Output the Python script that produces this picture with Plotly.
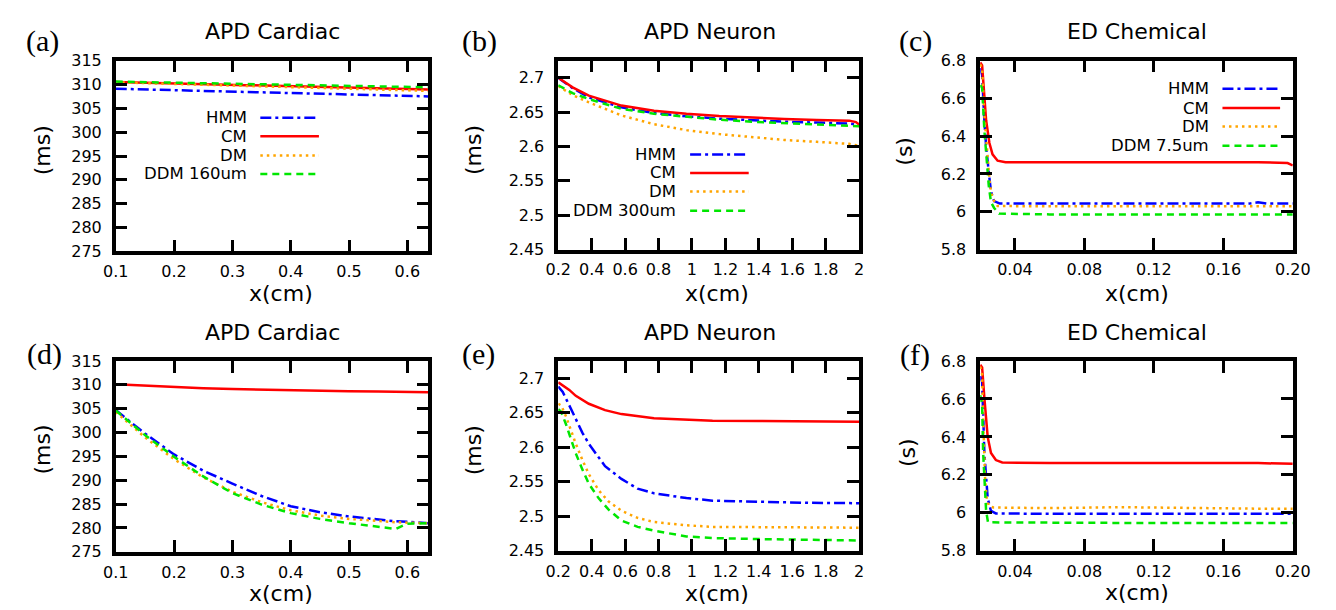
import plotly.graph_objects as go

W, H = 1336, 610

# ---------------- data ----------------
# (a) APD Cardiac
a_x = [0.1, 0.2, 0.3, 0.4, 0.5, 0.6, 0.636]
a_hmm = [309.1, 308.8, 308.5, 308.25, 308.0, 307.75, 307.5]
a_cm = [310.5, 310.2, 309.9, 309.6, 309.35, 309.05, 308.95]
a_dm = [310.45, 310.1, 309.8, 309.5, 309.2, 308.85, 308.65]
a_ddm = [310.6, 310.4, 310.2, 309.95, 309.75, 309.5, 309.4]

# (b) APD Neuron
b_x = [0.2, 0.286, 0.383, 0.578, 0.773, 0.967, 1.163, 1.357, 1.552, 1.747, 1.942, 1.981, 2.0]
b_hmm = [2.700, 2.685, 2.6714, 2.657, 2.6486, 2.6438, 2.6405, 2.638, 2.636, 2.6348, 2.6334, 2.632, 2.631]
b_cm = [2.700, 2.686, 2.674, 2.6595, 2.652, 2.6476, 2.6443, 2.642, 2.640, 2.6386, 2.6376, 2.6355, 2.632]
b_dm = [2.688, 2.6748, 2.6643, 2.6452, 2.6324, 2.6238, 2.618, 2.6133, 2.6095, 2.6067, 2.6038, 2.602, 2.600]
b_ddm = [2.689, 2.6776, 2.669, 2.6548, 2.6476, 2.643, 2.639, 2.636, 2.6343, 2.6324, 2.631, 2.630, 2.6295]

# (c) ED Chemical
c_hmm_x = [0.0200, 0.0211, 0.0224, 0.0234, 0.0249, 0.0262, 0.0280, 0.0313, 0.06, 0.10, 0.14, 0.175, 0.18, 0.185, 0.200]
c_hmm = [6.76, 6.723, 6.48, 6.347, 6.21, 6.108, 6.056, 6.043, 6.043, 6.043, 6.043, 6.043, 6.05, 6.043, 6.043]
c_cm_x = [0.0200, 0.0211, 0.0234, 0.0253, 0.0271, 0.0300, 0.0346, 0.06, 0.10, 0.14, 0.18, 0.197, 0.200]
c_cm = [6.79, 6.774, 6.484, 6.364, 6.304, 6.270, 6.262, 6.262, 6.262, 6.262, 6.262, 6.258, 6.245]
c_dm_x = [0.0200, 0.0211, 0.0224, 0.0243, 0.0256, 0.0271, 0.0300, 0.06, 0.10, 0.14, 0.18, 0.200]
c_dm = [6.78, 6.757, 6.51, 6.29, 6.14, 6.07, 6.03, 6.029, 6.029, 6.029, 6.029, 6.029]
c_ddm_x = [0.0200, 0.0211, 0.0224, 0.0237, 0.0249, 0.0262, 0.0280, 0.0308, 0.06, 0.10, 0.14, 0.18, 0.200]
c_ddm = [6.67, 6.655, 6.43, 6.26, 6.14, 6.05, 6.02, 5.99, 5.986, 5.986, 5.986, 5.986, 5.986]

# (d) APD Cardiac
d_x = [0.1, 0.15, 0.2, 0.25, 0.3, 0.35, 0.4, 0.45, 0.5, 0.55, 0.58, 0.6, 0.636]
d_hmm = [304.7, 299.8, 295.4, 292.0, 289.3, 286.7, 284.55, 283.3, 282.4, 281.7, 281.4, 281.3, 281.0]
d_cm = [310.1, 309.8, 309.5, 309.3, 309.1, 308.95, 308.8, 308.72, 308.65, 308.58, 308.53, 308.5, 308.45]
d_dm = [304.3, 299.0, 294.4, 290.6, 287.6, 285.4, 283.7, 282.6, 281.9, 281.4, 281.2, 281.1, 281.0]
d_ddm = [304.6, 299.5, 294.9, 290.8, 287.3, 284.9, 283.1, 281.9, 281.0, 280.3, 279.8, 280.9, 281.0]

# (e) APD Neuron
e_cm_x = [0.2, 0.227, 0.266, 0.305, 0.383, 0.48, 0.578, 0.773, 0.967, 1.123, 1.4, 1.7, 2.0]
e_cm = [2.694, 2.690, 2.683, 2.6745, 2.663, 2.6537, 2.648, 2.642, 2.6398, 2.6384, 2.638, 2.6377, 2.637]
e_hmm_x = [0.2, 0.227, 0.266, 0.305, 0.344, 0.383, 0.48, 0.578, 0.675, 0.773, 0.967, 1.123, 1.4, 1.7, 2.0]
e_hmm = [2.688, 2.680, 2.6606, 2.6398, 2.6213, 2.605, 2.5727, 2.5542, 2.540, 2.5333, 2.5264, 2.5227, 2.521, 2.5195, 2.519]
e_x = [0.2, 0.2175, 0.2468, 0.276, 0.305, 0.344, 0.383, 0.441, 0.5, 0.578, 0.675, 0.773, 0.967, 1.123, 1.4, 2.0]
e_dm = [2.663, 2.6606, 2.6444, 2.6236, 2.605, 2.582, 2.561, 2.538, 2.5218, 2.508, 2.4977, 2.4917, 2.487, 2.4847, 2.484, 2.4835]
e_ddm = [2.655, 2.6514, 2.6329, 2.612, 2.5912, 2.568, 2.5472, 2.5264, 2.510, 2.494, 2.4847, 2.4792, 2.4708, 2.4685, 2.467, 2.465]

# (f) ED Chemical
f_hmm_x = [0.0200, 0.0211, 0.0224, 0.0234, 0.0243, 0.0262, 0.0290, 0.06, 0.10, 0.14, 0.18, 0.200]
f_hmm = [6.72, 6.69, 6.315, 6.18, 6.077, 6.01, 5.997, 5.995, 5.995, 5.995, 5.995, 5.995]
f_cm_x = [0.0200, 0.0211, 0.0224, 0.0234, 0.0243, 0.0262, 0.0290, 0.0327, 0.06, 0.10, 0.14, 0.18, 0.200]
f_cm = [6.78, 6.766, 6.604, 6.485, 6.40, 6.315, 6.278, 6.265, 6.262, 6.262, 6.262, 6.262, 6.258]
f_dm_x = [0.0200, 0.0211, 0.0217, 0.0228, 0.0237, 0.0250, 0.0277, 0.06, 0.10, 0.14, 0.18, 0.200]
f_dm = [6.77, 6.73, 6.50, 6.18, 6.08, 6.036, 6.028, 6.025, 6.03, 6.025, 6.022, 6.022]
f_ddm_x = [0.0200, 0.0211, 0.0217, 0.0226, 0.0234, 0.0245, 0.06, 0.10, 0.14, 0.18, 0.200]
f_ddm = [6.62, 6.57, 6.315, 6.11, 6.01, 5.95, 5.947, 5.947, 5.947, 5.947, 5.947]

titles = ["APD Cardiac", "APD Neuron", "ED Chemical", "APD Cardiac", "APD Neuron", "ED Chemical"]
panel_tags = ["(a)", "(b)", "(c)", "(d)", "(e)", "(f)"]
y_units = ["(ms)", "(ms)", "(s)", "(ms)", "(ms)", "(s)"]
x_label = "x(cm)"
series_names = ["HMM", "CM", "DM"]
ddm_names = ["DDM 160um", "DDM 300um", "DDM 7.5um"]

panels = [
    [(a_x, a_hmm), (a_x, a_cm), (a_x, a_dm), (a_x, a_ddm)],
    [(b_x, b_hmm), (b_x, b_cm), (b_x, b_dm), (b_x, b_ddm)],
    [(c_hmm_x, c_hmm), (c_cm_x, c_cm), (c_dm_x, c_dm), (c_ddm_x, c_ddm)],
    [(d_x, d_hmm), (d_x, d_cm), (d_x, d_dm), (d_x, d_ddm)],
    [(e_hmm_x, e_hmm), (e_cm_x, e_cm), (e_x, e_dm), (e_x, e_ddm)],
    [(f_hmm_x, f_hmm), (f_cm_x, f_cm), (f_dm_x, f_dm), (f_ddm_x, f_ddm)],
]

# ---------------- styles ----------------
colors = ["#0000ff", "#ff0000", "#ffa500", "#00e600"]
dashes = ["11px,4px,3px,4px", "solid", "2.5px,4px", "7px,5px"]
LW = 2.5
FONT = "DejaVu Sans"

# plot area pixel boxes (left, right, top, bottom)
boxes = [
    (97, 417, 45, 242), (550, 858, 45, 240), (982, 1302, 45, 240),
    (97, 417, 355, 552), (550, 858, 355, 551), (982, 1302, 355, 551),
]
x_ranges = [[0.1, 0.636], [0.2, 2.0], [0.02, 0.2]] * 2
y_ranges = [[275, 315], [2.45, 2.725], [5.8, 6.8]] * 2
x_dticks = [0.1, 0.2, 0.04] * 2
x_tick0 = [0.1, 0.2, 0.04] * 2
y_dticks = [5, 0.05, 0.2] * 2
x_fmt = ["", "", ".2f"] * 2


def px(x, y):
    return x / W, 1 - y / H


fig = go.Figure()

for i, series in enumerate(panels):
    ax = "" if i == 0 else str(i + 1)
    for k, (xs, ys) in enumerate(series):
        fig.add_trace(go.Scatter(
            x=xs, y=ys, mode="lines", showlegend=False,
            line=dict(color=colors[k], width=LW, dash=dashes[k]),
            xaxis="x" + ax, yaxis="y" + ax, hoverinfo="skip",
        ))
    l, r, t, b = boxes[i]
    common = dict(showline=True, linecolor="black", linewidth=3.5, mirror="ticks",
                  ticks="inside", ticklen=12, tickwidth=3, tickcolor="black",
                  showgrid=False, zeroline=False,
                  tickfont=dict(family=FONT, size=16, color="black"))
    fig.layout["xaxis" + ax] = dict(
        domain=[l / W, r / W], anchor="y" + ax, range=x_ranges[i],
        tick0=x_tick0[i], dtick=x_dticks[i], tickformat=x_fmt[i],
        ticklabelstandoff=3, **common)
    fig.layout["yaxis" + ax] = dict(
        domain=[1 - b / H, 1 - t / H], anchor="x" + ax, range=y_ranges[i],
        dtick=y_dticks[i], ticklabelstandoff=7, **common)

annotations = []
shapes = []

title_pos = [(257, 15), (705, 15), (1143, 15), (257, 326), (705, 326), (1142, 326)]
xlab_pos = [(266, 285), (713, 285), (1143, 285), (266, 595), (713, 595), (1142, 594)]
ylab_pos = [(22, 137), (463, 137), (905, 139), (22, 446), (463, 447), (907, 449)]
tag_pos = [(22, 25), (469, 25), (916, 25), (24, 348), (468, 348), (915, 349)]

for i in range(6):
    x, y = px(*title_pos[i])
    annotations.append(dict(x=x, y=y, xref="paper", yref="paper", text=titles[i],
                            showarrow=False, xanchor="center", yanchor="middle",
                            font=dict(family=FONT, size=22, color="black")))
    x, y = px(*xlab_pos[i])
    annotations.append(dict(x=x, y=y, xref="paper", yref="paper", text=x_label,
                            showarrow=False, xanchor="center", yanchor="middle",
                            font=dict(family=FONT, size=22, color="black")))
    x, y = px(*ylab_pos[i])
    annotations.append(dict(x=x, y=y, xref="paper", yref="paper", text=y_units[i],
                            showarrow=False, xanchor="center", yanchor="middle", textangle=-90,
                            font=dict(family=FONT, size=22, color="black")))
    x, y = px(*tag_pos[i])
    annotations.append(dict(x=x, y=y, xref="paper", yref="paper", text=panel_tags[i],
                            showarrow=False, xanchor="center", yanchor="middle",
                            font=dict(family="Liberation Serif", size=30, color="black")))

# legends (text right-aligned, sample on the right) for top panels
legend_specs = [
    (233, 245, 305, [104, 123, 143, 162]),
    (673, 685, 745, [142, 161, 180, 200]),
    (1218, 1230, 1289, [74, 94, 113, 133]),
]
for j, (tx, s0, s1, rows) in enumerate(legend_specs):
    names = series_names + [ddm_names[j]]
    for k, ry in enumerate(rows):
        x, y = px(tx, ry)
        annotations.append(dict(x=x, y=y, xref="paper", yref="paper", text=names[k],
                                showarrow=False, xanchor="right", yanchor="middle",
                                font=dict(family=FONT, size=16.5, color="black")))
        x0, y0 = px(s0, ry)
        x1, _ = px(s1, ry)
        shapes.append(dict(type="line", xref="paper", yref="paper", x0=x0, x1=x1, y0=y0, y1=y0,
                           line=dict(color=colors[k], width=LW, dash=dashes[k])))

fig.update_layout(
    width=W, height=H, margin=dict(l=0, r=0, t=0, b=0),
    paper_bgcolor="white", plot_bgcolor="white",
    annotations=annotations, shapes=shapes, showlegend=False,
    font=dict(family=FONT, color="black"),
)

fig.write_html("out.html")
